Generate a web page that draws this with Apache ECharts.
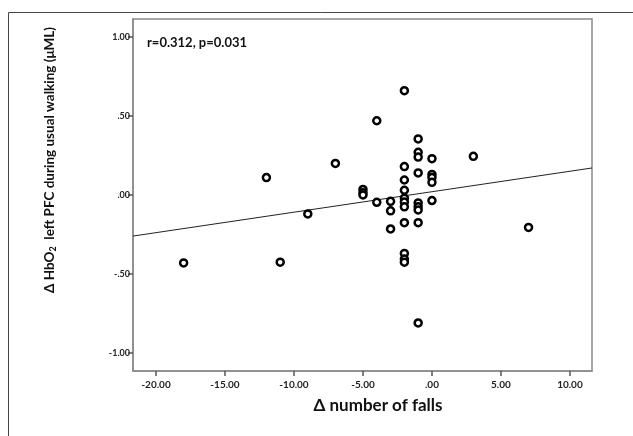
<!DOCTYPE html>
<html>
<head>
<meta charset="utf-8">
<script src="https://cdn.jsdelivr.net/npm/echarts@6/dist/echarts.min.js"></script>
<style>
    html, body { margin: 0; padding: 0; background: #fff; }
    #chart { width: 633px; height: 436px; }
</style>
</head>
<body>
<div id="chart"></div>
<script>
// change in number of falls (x) and change in HbO2 (y), one entry per subject
var fallsChange = [-18, -12, -11, -9, -7, -5, -5, -5, -4, -4, -3, -3, -3,
    -2, -2, -2, -2, -2, -2, -2, -2, -2, -2, -2,
    -1, -1, -1, -1, -1, -1, -1, -1, -1,
    0, 0, 0, 0, 0, 3, 7];
var hbo2Change = [-0.43, 0.11, -0.425, -0.12, 0.20, 0.035, 0.015, 0.00, 0.47, -0.046, -0.04, -0.10, -0.215,
    0.66, 0.18, 0.095, 0.03, -0.02, -0.045, -0.075, -0.175, -0.37, -0.405, -0.425,
    0.355, 0.27, 0.24, 0.14, -0.05, -0.075, -0.095, -0.175, -0.81,
    0.23, 0.13, 0.11, 0.08, -0.035, 0.245, -0.205];
// fit line end points, read at the edges of the plot
var fitLine = [[-21.67, -0.26], [11.6, 0.171]];
var xTicks = [-20, -15, -10, -5, 0, 5, 10];
var yTicks = [-1, -0.5, 0, 0.5, 1];
var statText = "r=0.312, p=0.031";

var fontFam = "Lato, 'Open Sans', sans-serif";

function spssFmt(v) {
    var s = Math.abs(v).toFixed(2);
    if (Math.abs(v) < 1) s = s.substring(1);
    return (v < 0 ? "-" : "") + s;
}

var points = fallsChange.map(function (x, i) {
    return [x, hbo2Change[i]];
});

var mychart = echarts.init(document.getElementById("chart"));
var option = {
    animation: false,
    backgroundColor: "#fff",
    grid: {
        left: 133,
        top: 19,
        right: 41,
        bottom: 65,
        show: true,
        borderColor: "#8a8a8a",
        borderWidth: 1.5
    },
    xAxis: {
        type: "value",
        min: -21.67,
        max: 11.6,
        splitLine: { show: false },
        axisLine: { show: true, onZero: false, lineStyle: { color: "#8a8a8a", width: 1.5 } },
        axisTick: {
            show: true,
            customValues: xTicks,
            length: 5,
            lineStyle: { color: "#555", width: 1.5 }
        },
        axisLabel: {
            customValues: xTicks,
            formatter: spssFmt,
            color: "#222",
            fontFamily: fontFam,
            fontWeight: "bold",
            fontSize: 10,
            margin: 9
        }
    },
    yAxis: {
        type: "value",
        min: -1.114,
        max: 1.114,
        splitLine: { show: false },
        axisLine: { show: true, onZero: false, lineStyle: { color: "#8a8a8a", width: 1.5 } },
        axisTick: {
            show: true,
            customValues: yTicks,
            length: 5,
            lineStyle: { color: "#555", width: 1.5 }
        },
        axisLabel: {
            customValues: yTicks,
            formatter: spssFmt,
            color: "#222",
            fontFamily: fontFam,
            fontWeight: "bold",
            fontSize: 9,
            margin: 3
        }
    },
    graphic: [
        {
            type: "rect",
            left: 6,
            top: 10,
            shape: { width: 700, height: 500 },
            style: { fill: null, stroke: "#444", lineWidth: 1 },
            z: -1
        },
        {
            type: "text",
            left: 147,
            top: 36,
            style: {
                text: statText,
                fill: "#111",
                font: "bold 13px " + fontFam
            }
        },
        {
            type: "text",
            x: 50,
            y: 160,
            rotation: Math.PI / 2,
            style: {
                text: "Δ HbO{sub|2}  left PFC during usual walking (μML)",
                fill: "#111",
                align: "center",
                verticalAlign: "middle",
                font: "bold 13.5px " + fontFam,
                rich: {
                    sub: {
                        font: "bold 9px " + fontFam,
                        fill: "#111",
                        verticalAlign: "bottom",
                        padding: [7, 0, 0, 0]
                    }
                }
            }
        },
        {
            type: "text",
            x: 378,
            y: 406,
            style: {
                text: "Δ number of falls",
                fill: "#111",
                align: "center",
                verticalAlign: "middle",
                font: "bold 17px " + fontFam
            }
        }
    ],
    series: [
        {
            type: "line",
            data: fitLine,
            symbol: "none",
            lineStyle: { color: "#222", width: 1 },
            z: 1
        },
        {
            type: "scatter",
            data: points,
            symbol: "circle",
            symbolSize: 7,
            itemStyle: {
                color: "#fff",
                borderColor: "#000",
                borderWidth: 2.5,
                opacity: 1
            },
            z: 2
        }
    ]
};
mychart.setOption(option);
</script>
</body>
</html>
